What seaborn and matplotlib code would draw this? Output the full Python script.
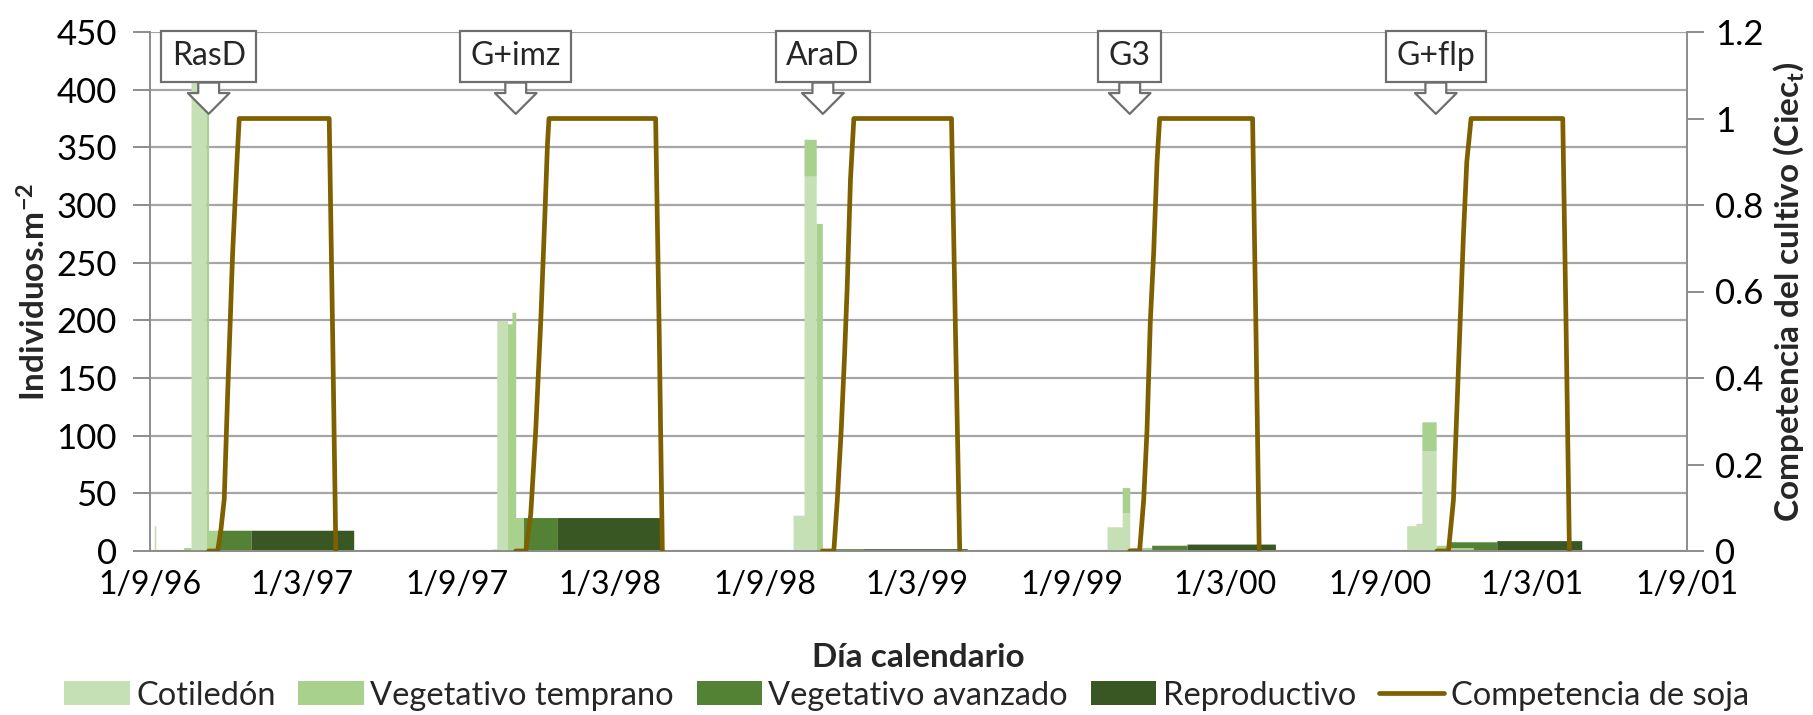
import numpy as np
import pandas as pd
import matplotlib
matplotlib.use("Agg")
import matplotlib.pyplot as plt
import matplotlib.dates as mdates
from matplotlib.patches import Patch
from matplotlib.lines import Line2D
import seaborn as sns

# ---------------- data ----------------
origin = "1996-09-01"
# blocks: (start_day, end_day, individuals/m2), days counted from 1/9/96
cotiledon_blocks = [(5, 7, 22), (48.7, 66.5, 480),
                    (407, 412, 2), (412, 424.7, 200),
                    (764, 777, 31), (777, 791.5, 325),
                    (1137, 1155, 21), (1155, 1164, 33),
                    (1493, 1504, 22), (1504, 1511, 24), (1511, 1528, 87)]
temprano_blocks = [(8, 40, 1), (40, 48.7, 3), (66.5, 69.5, 470), (69.5, 80.5, 18),
                   (424.7, 430, 197), (430, 434.5, 207), (434.5, 443.7, 29),
                   (777, 791.5, 32), (791.5, 798.6, 284),
                   (1155, 1164, 22), (1164, 1190, 3),
                   (1511, 1528, 25), (1528, 1545, 5), (1545, 1572, 3)]
avanzado_blocks = [(80.5, 120, 18),
                   (443.7, 484, 29),
                   (798.6, 847, 2),
                   (1190, 1232, 5),
                   (1545, 1572, 5), (1572, 1600, 8)]
reproductivo_blocks = [(120, 242, 18),
                       (484, 608.7, 29),
                       (847, 971, 2),
                       (1232, 1337, 6),
                       (1600, 1701, 9)]

# crop competition (Ciec_t), one list per season
soy_days = [
    [69.7, 80.4, 84.3, 88.2, 92.2, 98.2, 103.3, 106.0, 212.9, 217.0, 220.8],
    [434.5, 446.4, 452.3, 458.3, 464.2, 469.0, 472.2, 474.0, 600.7, 605.0, 608.7],
    [798.6, 812.4, 816.5, 821.2, 825.1, 828.3, 832.2, 836.2, 952.2, 957.0, 962.0],
    [1163.9, 1175.7, 1180.5, 1184.5, 1188.4, 1192.4, 1196.4, 1199.5, 1309.9, 1314.0, 1317.8],
    [1528.8, 1542.6, 1548.5, 1552.5, 1556.5, 1560.4, 1564.4, 1569.5, 1678.4, 1682.5, 1686.3],
]
soy_values = [
    [0, 0, 0.05, 0.12, 0.36, 0.69, 0.90, 1.0, 1.0, 0.5, 0],
    [0, 0, 0.084, 0.28, 0.53, 0.77, 0.94, 1.0, 1.0, 0.5, 0],
    [0, 0, 0.117, 0.28, 0.45, 0.61, 0.86, 1.0, 1.0, 0.5, 0],
    [0, 0, 0.117, 0.28, 0.53, 0.69, 0.90, 1.0, 1.0, 0.5, 0],
    [0, 0, 0.117, 0.32, 0.53, 0.73, 0.90, 1.0, 1.0, 0.5, 0],
]

treatments = ["RasD", "G+imz", "AraD", "G3", "G+flp"]
treatment_days = [69.7, 434.5, 799.4, 1163.9, 1527.6]

stage_names = ["Cotiledón", "Vegetativo temprano", "Vegetativo avanzado", "Reproductivo"]
line_name = "Competencia de soja"
xtick_dates = ["1996-09-01", "1997-03-01", "1997-09-01", "1998-03-01", "1998-09-01",
               "1999-03-01", "1999-09-01", "2000-03-01", "2000-09-01", "2001-03-01",
               "2001-09-01"]
xtick_labels = ["1/9/96", "1/3/97", "1/9/97", "1/3/98", "1/9/98", "1/3/99",
                "1/9/99", "1/3/00", "1/9/00", "1/3/01", "1/9/01"]
left_ticks = [0, 50, 100, 150, 200, 250, 300, 350, 400, 450]
right_ticks = [0, 0.2, 0.4, 0.6, 0.8, 1.0, 1.2]
right_labels = ["0", "0.2", "0.4", "0.6", "0.8", "1", "1.2"]

# ---------------- styling ----------------
colors = ["#c5e0b4", "#a9d18e", "#548235", "#385723"]
line_color = "#7f6000"
grid_color = "#a6a6a6"
axis_color = "#8c8c8c"

sns.set_theme(style="white")
plt.rcParams["font.family"] = ["Lato", "DejaVu Sans"]
plt.rcParams["mathtext.fontset"] = "custom"
plt.rcParams["mathtext.rm"] = "Lato"
plt.rcParams["mathtext.bf"] = "Lato:bold"
plt.rcParams["mathtext.it"] = "Lato:italic"

W, H = 1813, 715
fig = plt.figure(figsize=(W / 100, H / 100), dpi=100)
L, R, T, B = 150, 1687, 32, 551
ax = fig.add_axes([L / W, 1 - B / H, (R - L) / W, (B - T) / H])

# ---------------- stacked areas ----------------
t0 = pd.Timestamp(origin)
grid = np.arange(0, 1827, 0.25)

def series(blocks):
    s = np.zeros_like(grid)
    for a, b, v in blocks:
        s[(grid >= a) & (grid < b)] = v
    return s

stack = [series(b) for b in (cotiledon_blocks, temprano_blocks, avanzado_blocks, reproductivo_blocks)]
xnum = mdates.date2num(t0) + grid
base = np.zeros_like(grid)
for s, c in zip(stack, colors):
    ax.fill_between(xnum, base, base + s, color=c, lw=0, step="post", zorder=2)
    base = base + s

ax.set_ylim(0, 450)
ax.set_yticks(left_ticks)
ax.set_xlim(mdates.date2num(pd.Timestamp(xtick_dates[0])), mdates.date2num(pd.Timestamp(xtick_dates[-1])))
ax.set_xticks(mdates.date2num(pd.to_datetime(xtick_dates)))
ax.set_xticklabels(xtick_labels)
ax.yaxis.grid(True, color=grid_color, lw=1.6, zorder=0)
ax.set_axisbelow(True)
for side in ["left", "bottom"]:
    ax.spines[side].set_color(axis_color)
    ax.spines[side].set_linewidth(1.4)
ax.spines["top"].set_visible(False)
ax.spines["right"].set_visible(False)
ax.tick_params(axis="x", direction="out", length=9, width=1.4,
               color=axis_color, labelsize=23, labelcolor="black", pad=5)
ax.tick_params(axis="y", direction="out", length=12, width=1.4,
               color=axis_color, labelsize=25, labelcolor="black", pad=12)

# ---------------- competition line (seaborn) ----------------
ax2 = ax.twinx()
rows = []
for k, (d, v) in enumerate(zip(soy_days, soy_values)):
    for dd, vv in zip(d, v):
        rows.append({"date": t0 + pd.Timedelta(days=dd), "ciec": vv, "season": k})
df = pd.DataFrame(rows)
sns.lineplot(data=df, x="date", y="ciec", units="season", estimator=None, sort=False,
             color=line_color, lw=3.4, ax=ax2, legend=False,
             solid_joinstyle="round", solid_capstyle="round")
ax2.set_ylim(0, 1.2)
ax2.set_yticks(right_ticks)
ax2.set_yticklabels(right_labels)
ax2.set_xlim(ax.get_xlim())
ax2.grid(False)
for side in ["left", "bottom", "top"]:
    ax2.spines[side].set_visible(False)
ax2.spines["right"].set_color(axis_color)
ax2.spines["right"].set_linewidth(1.4)
ax2.tick_params(axis="y", direction="out", length=12, width=1.4, color=axis_color,
                labelsize=25, labelcolor="black", pad=8)
ax2.set_xlabel("")

# ---------------- labels ----------------
ax.set_ylabel(r"Individuos.m$^{\mathbf{-2}}$", fontsize=24, fontweight="bold")
ax.yaxis.label.set_va("center")
ax.yaxis.set_label_coords(-0.075, 0.5)
ax.set_xlabel("Día calendario", fontsize=24, fontweight="bold")
ax.xaxis.label.set_va("center")
ax.xaxis.set_label_coords(0.5, -0.205)
ax2.set_ylabel(r"Competencia del cultivo (Ciec$_{\mathbf{t}}$)", fontsize=24,
               fontweight="bold", rotation=90)
ax2.yaxis.label.set_va("center")
ax2.yaxis.label.set_ha("center")
ax2.yaxis.set_label_coords(1.066, 0.5)

# ---------------- treatment callouts ----------------
for name, d in zip(treatments, treatment_days):
    xd = mdates.date2num(t0 + pd.Timedelta(days=d))
    ax2.annotate(name, xy=(xd, 379 / 375), xycoords="data",
                 xytext=(xd, 429 / 375), textcoords="data",
                 ha="center", va="center", fontsize=23, zorder=10,
                 bbox=dict(boxstyle="square,pad=0.33", fc="white", ec="#6e6e6e", lw=1.6),
                 arrowprops=dict(arrowstyle="simple,head_length=0.75,head_width=1.5,tail_width=0.75",
                                 fc="white", ec="#6e6e6e", lw=1.6, mutation_scale=20,
                                 shrinkA=0, shrinkB=0))

# ---------------- legend ----------------
handles = [Patch(facecolor=c, edgecolor="none") for c in colors]
handles.append(Line2D([0], [0], color=line_color, lw=3.4))
fig.legend(handles, stage_names + [line_name], loc="center", bbox_to_anchor=(0.5, 0.027),
           ncol=5, frameon=False, fontsize=23.5, handlelength=2.0, handleheight=0.75,
           handletextpad=0.2, columnspacing=0.7)

fig.savefig("out.png", dpi=100)
